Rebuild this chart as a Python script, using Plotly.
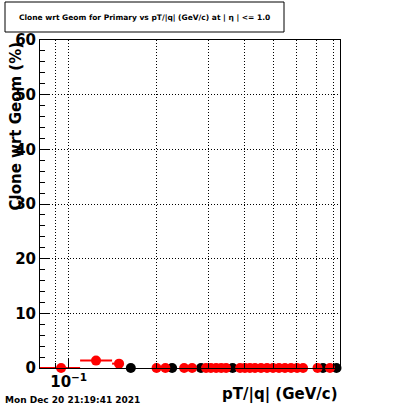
import plotly.graph_objects as go

# Red series (Clone wrt Geom, %) : bin centres in pT/|q| (GeV/c)
red_pt = [0.0942, 0.124, 0.1486, 0.1996, 0.214, 0.248, 0.264, 0.2946, 0.306, 0.319,
          0.332, 0.345, 0.385, 0.400, 0.416, 0.433, 0.454, 0.476, 0.499, 0.523,
          0.548, 0.575, 0.603, 0.632, 0.708, 0.781]
red_val = [0.0, 1.35, 0.8, 0, 0, 0, 0, 0, 0, 0,
           0, 0, 0, 0, 0, 0, 0, 0, 0, 0,
           0, 0, 0, 0, 0, 0]
# bin edges for the red points (low, high)
red_lo = [0.0798, 0.1094, 0.1407, 0.1996, 0.214, 0.248, 0.264, 0.2946, 0.306, 0.319,
          0.332, 0.345, 0.385, 0.400, 0.416, 0.433, 0.454, 0.476, 0.499, 0.523,
          0.548, 0.575, 0.603, 0.632, 0.708, 0.781]
red_hi = [0.1094, 0.1407, 0.1546, 0.1996, 0.214, 0.248, 0.264, 0.2946, 0.306, 0.319,
          0.332, 0.345, 0.385, 0.400, 0.416, 0.433, 0.454, 0.476, 0.499, 0.523,
          0.548, 0.575, 0.603, 0.632, 0.708, 0.781]

# Black series points visible at zero
black_pt = [0.163, 0.2256, 0.283, 0.363, 0.739, 0.822]
black_val = [0, 0, 0, 0, 0, 0]

x_major = [0.1]
x_major_text = ["10<sup>−1</sup>"]
x_minor = [0.09, 0.2, 0.3, 0.4, 0.5, 0.6, 0.7, 0.8]

FONT = "DejaVu Sans"
DOT = "1px,2px"

fig = go.Figure()
fig.add_trace(go.Scatter(
    x=black_pt, y=black_val, mode="markers",
    marker=dict(color="black", size=10, symbol="circle"),
    showlegend=False, cliponaxis=False))
fig.add_trace(go.Scatter(
    x=red_pt, y=red_val, mode="markers",
    marker=dict(color="red", size=10, symbol="circle"),
    error_x=dict(type="data", symmetric=False,
                 array=[h - c for h, c in zip(red_hi, red_pt)],
                 arrayminus=[c - l for c, l in zip(red_pt, red_lo)],
                 color="red", thickness=2, width=0),
    showlegend=False, cliponaxis=False))

fig.update_layout(
    width=400, height=409,
    margin=dict(l=40, r=60, t=40, b=41, pad=0, autoexpand=False),
    paper_bgcolor="white", plot_bgcolor="white",
    font=dict(family=FONT, color="black"),
    showlegend=False,
    xaxis=dict(
        type="log", range=[-1.098, -0.0731], automargin=False,
        tickmode="array", tickvals=x_major, ticktext=x_major_text,
        ticks="inside", ticklen=9, tickcolor="black",
        minor=dict(tickmode="array", tickvals=x_minor, ticks="inside", ticklen=5,
                   tickcolor="black", showgrid=True, gridcolor="black",
                   griddash=DOT, gridwidth=1),
        showgrid=True, gridcolor="black", griddash=DOT, gridwidth=1,
        showline=True, linecolor="black", linewidth=1, mirror=True,
        zeroline=False,
        tickfont=dict(family=FONT, size=15, weight="bold"),
    ),
    yaxis=dict(
        range=[0, 60], dtick=10, tick0=0, automargin=False,
        ticks="inside", ticklen=9, tickcolor="black",
        minor=dict(dtick=2, ticks="inside", ticklen=5, tickcolor="black", showgrid=False),
        showgrid=True, gridcolor="black", griddash=DOT, gridwidth=1,
        showline=True, linecolor="black", linewidth=1, mirror=True,
        zeroline=False,
        tickfont=dict(family=FONT, size=15, weight="bold"),
    ),
)

# x-axis title (right aligned like ROOT)
fig.add_annotation(text="pT/|q| (GeV/c)", xref="paper", yref="paper",
                   x=1.0, y=(368 - 383) / 328, xanchor="right", yanchor="top", showarrow=False,
                   font=dict(family=FONT, size=15, weight="bold"))

# y-axis title (top aligned like ROOT)
fig.add_annotation(text="Clone wrt Geom (%)", xref="paper", yref="paper",
                   x=(15 - 40) / 300, y=1.0, xanchor="center", yanchor="top", textangle=-90,
                   showarrow=False, font=dict(family=FONT, size=15, weight="bold"))

# title box
fig.add_shape(type="rect", xref="paper", yref="paper",
              x0=(5 - 40) / 300, x1=(284 - 40) / 300,
              y0=(368 - 32) / 328, y1=(368 - 2) / 328,
              line=dict(color="black", width=1), fillcolor="white")
fig.add_annotation(text="Clone wrt Geom for Primary vs pT/|q| (GeV/c) at | η | <= 1.0",
                   xref="paper", yref="paper",
                   x=(144.5 - 40) / 300, y=(368 - 17.5) / 328,
                   xanchor="center", yanchor="middle", showarrow=False,
                   font=dict(family=FONT, size=7.5, weight="bold"))

# date stamp
fig.add_annotation(text="Mon Dec 20 21:19:41 2021", xref="paper", yref="paper",
                   x=(3 - 40) / 300, y=(368 - 400) / 328,
                   xanchor="left", yanchor="middle", showarrow=False,
                   font=dict(family=FONT, size=9, weight="bold"))

fig.write_html("out.html", config={"displayModeBar": False},
               post_script="document.body.style.margin='0';document.body.style.overflow='hidden';")
